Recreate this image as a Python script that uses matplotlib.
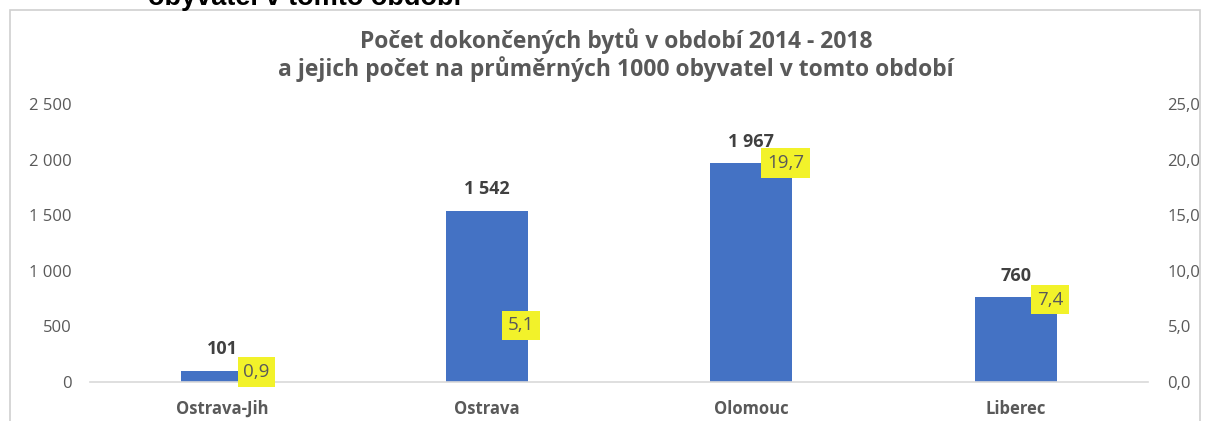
import matplotlib.pyplot as plt
from matplotlib.patches import Rectangle

cities = ["Ostrava-Jih", "Ostrava", "Olomouc", "Liberec"]
byty = [101, 1542, 1967, 760]
na_1000 = [0.9, 5.1, 19.7, 7.4]
left_ticks = [0, 500, 1000, 1500, 2000, 2500]
right_ticks = [0, 5, 10, 15, 20, 25]

grey = "#595959"
fig = plt.figure(figsize=(12.05, 4.21), dpi=100)

# chart frame (partly cropped off in the reference)
fig.patches.append(Rectangle((10 / 1205, -0.1), 1190 / 1205, 1.1 - 10 / 421,
                             transform=fig.transFigure, fill=False,
                             edgecolor="#d0d0d0", linewidth=1.2))

# text cut off at the top edge
fig.text(305 / 1205, 1 - 5 / 421, "obyvatel v tomto období", ha="center",
         va="baseline", fontsize=19.5, fontweight="bold", family="Liberation Sans",
         color="black")

fig.text(616 / 1205, 1 - 41 / 421, "Počet dokončených bytů v období 2014 - 2018",
         ha="center", va="center", fontsize=16.5, fontweight="bold",
         family="Open Sans", color=grey)
fig.text(616 / 1205, 1 - 69 / 421,
         "a jejich počet na průměrných 1000 obyvatel v tomto období",
         ha="center", va="center", fontsize=16.5, fontweight="bold",
         family="Open Sans", color=grey)

ax = fig.add_axes([90 / 1205, 1 - 382 / 421, 1058 / 1205, 278 / 421])
x = list(range(len(cities)))
ax.bar(x, byty, width=0.31, color="#4472c4", zorder=2)
ax.set_xlim(-0.5, 3.5)
ax.set_ylim(0, 2500)
ax.set_yticks(left_ticks)
ax.set_yticklabels([f"{v:,}".replace(",", " ") for v in left_ticks],
                   fontsize=12, color=grey, family="Open Sans")
ax.set_xticks(x)
ax.set_xticklabels(cities, fontsize=12, fontweight="bold", color=grey,
                   family="Open Sans")
ax.tick_params(axis="both", length=0)
ax.tick_params(axis="y", pad=13)
ax.tick_params(axis="x", pad=13)
for s in ["top", "left", "right"]:
    ax.spines[s].set_visible(False)
ax.spines["bottom"].set_color("#d9d9d9")
ax.spines["bottom"].set_linewidth(1.2)

for xi, v in zip(x, byty):
    ax.annotate(f"{v:,}".replace(",", " "), (xi, v), xytext=(0, 9),
                textcoords="offset points", ha="center", va="bottom",
                fontsize=13, fontweight="bold", color="#404040",
                family="Open Sans")

ax2 = ax.twinx()
ax2.set_ylim(0, 25)
ax2.set_yticks(right_ticks)
ax2.set_yticklabels([f"{v:.1f}".replace(".", ",") for v in right_ticks],
                    fontsize=12, color=grey, family="Open Sans")
ax2.tick_params(axis="y", length=0, pad=14)
for s in ["top", "left", "right", "bottom"]:
    ax2.spines[s].set_visible(False)

for xi, v in zip(x, na_1000):
    ax2.text(xi + 0.13, v, f"{v:.1f}".replace(".", ","), ha="center", va="center",
             fontsize=13.5, color=grey, family="Open Sans",
             bbox=dict(boxstyle="square,pad=0.3", facecolor="#f2f22a",
                       edgecolor="none"))

fig.savefig("out.png", dpi=100)
